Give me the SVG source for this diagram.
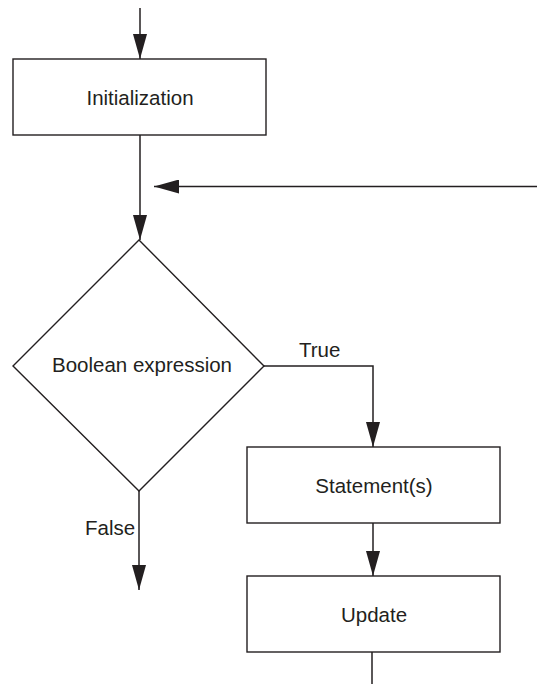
<svg xmlns="http://www.w3.org/2000/svg" width="537" height="684" viewBox="0 0 537 684">
  <defs>
    <style>
      .box { fill: #ffffff; stroke: #231f20; stroke-width: 1.4; }
      .conn { fill: none; stroke: #231f20; stroke-width: 1.5; }
      .lbl { font-family: "Liberation Sans", Arial, sans-serif; font-size: 20.5px; fill: #231f20; }
      .mid { text-anchor: middle; }
    </style>
    <marker id="arrow" viewBox="0 0 25 14" refX="25" refY="7" markerWidth="25" markerHeight="14" markerUnits="userSpaceOnUse" orient="auto">
      <path d="M0,0 L25,7 L0,14 Z" fill="#231f20"/>
    </marker>
  </defs>
  <rect width="537" height="684" fill="#ffffff"/>

  <g id="connectors">
    <line class="conn" x1="140" y1="8" x2="140" y2="59" marker-end="url(#arrow)"/>
    <line class="conn" x1="140" y1="135" x2="140" y2="240" marker-end="url(#arrow)"/>
    <line class="conn" x1="537" y1="186.5" x2="154" y2="186.5" marker-end="url(#arrow)"/>
    <polyline class="conn" points="264,366 373,366 373,447" marker-end="url(#arrow)"/>
    <line class="conn" x1="139" y1="491" x2="139" y2="590" marker-end="url(#arrow)"/>
    <line class="conn" x1="373" y1="523" x2="373" y2="576" marker-end="url(#arrow)"/>
    <line class="conn" x1="372" y1="652" x2="372" y2="684"/>
    <text class="lbl" x="299" y="357">True</text>
    <text class="lbl" x="85" y="535">False</text>
  </g>

  <g id="initialization">
    <rect class="box" x="13" y="59" width="253" height="76"/>
    <text class="lbl mid" x="140" y="105">Initialization</text>
  </g>

  <g id="condition">
    <polygon class="box" points="139,240 264,366 139,491 13,366"/>
    <text class="lbl mid" x="142" y="372">Boolean expression</text>
  </g>

  <g id="statements">
    <rect class="box" x="247" y="447" width="253" height="76"/>
    <text class="lbl mid" x="374" y="493">Statement(s)</text>
  </g>

  <g id="update">
    <rect class="box" x="247" y="576" width="253" height="76"/>
    <text class="lbl mid" x="374" y="622">Update</text>
  </g>
</svg>
